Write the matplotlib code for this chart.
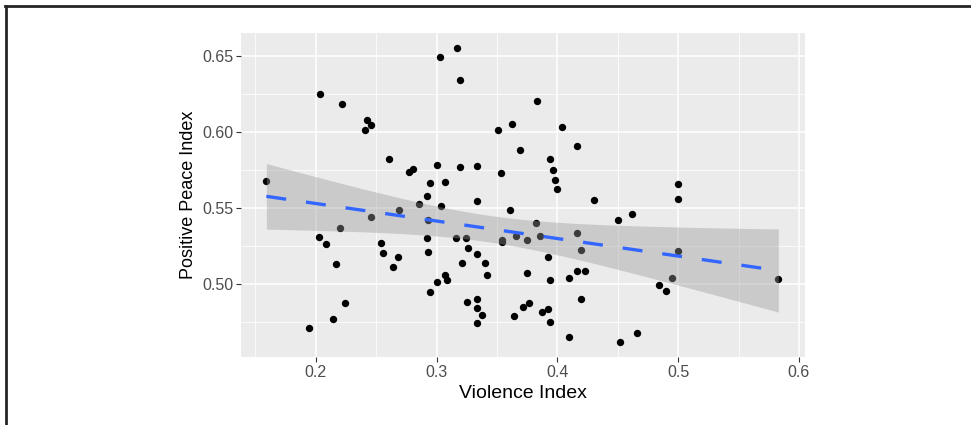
import numpy as np
import matplotlib
matplotlib.use("Agg")
import matplotlib.pyplot as plt
from matplotlib.lines import Line2D

plt.rcParams['font.family'] = ['Liberation Sans', 'DejaVu Sans']

# Violence Index (x) vs Positive Peace Index (y)
violence = [
    0.159, 0.2036, 0.2218, 0.2425, 0.2453, 0.2406, 0.2602, 0.2770, 0.2801, 0.2944,
    0.2917, 0.3165, 0.3027, 0.3193, 0.3830, 0.3626, 0.3507, 0.4035, 0.4164, 0.3689,
    0.3938, 0.3965, 0.3979, 0.3998, 0.3000, 0.3193, 0.3331, 0.3532, 0.3068, 0.3331,
    0.4305, 0.5000, 0.5000, 0.2853, 0.2690, 0.2453, 0.2201, 0.2027, 0.2080, 0.2168,
    0.2536, 0.2557, 0.2679, 0.2638, 0.2925, 0.2917, 0.2925, 0.2944, 0.2238, 0.2138,
    0.1942, 0.3035, 0.3609, 0.4499, 0.3822, 0.3157, 0.3240, 0.3540, 0.3540, 0.3654,
    0.3747, 0.3853, 0.4164, 0.4192, 0.3261, 0.3331, 0.3212, 0.3400, 0.3416, 0.3919,
    0.3747, 0.3068, 0.3082, 0.3000, 0.3935, 0.4095, 0.4164, 0.4225, 0.3250, 0.3331,
    0.3331, 0.3372, 0.3331, 0.3640, 0.3717, 0.3766, 0.3874, 0.3919, 0.3940, 0.4192,
    0.4098, 0.4520, 0.4619, 0.5000, 0.4946, 0.4843, 0.4899, 0.5829, 0.4661,
]
positive_peace = [
    0.568, 0.625, 0.6185, 0.6076, 0.6047, 0.6012, 0.5819, 0.5734, 0.5754, 0.5664,
    0.5578, 0.6549, 0.6491, 0.6338, 0.6200, 0.6053, 0.6014, 0.6030, 0.5907, 0.5880,
    0.5821, 0.5751, 0.5681, 0.5624, 0.5784, 0.5771, 0.5775, 0.5727, 0.5672, 0.5547,
    0.5555, 0.5655, 0.5560, 0.5526, 0.5486, 0.5440, 0.5366, 0.5309, 0.5263, 0.5131,
    0.5271, 0.5202, 0.5179, 0.5110, 0.5419, 0.5304, 0.5212, 0.4945, 0.4877, 0.4772,
    0.4713, 0.5511, 0.5488, 0.5419, 0.5399, 0.5304, 0.5300, 0.5289, 0.5278, 0.5315,
    0.5289, 0.5315, 0.5337, 0.5223, 0.5239, 0.5197, 0.5140, 0.5140, 0.5057, 0.5179,
    0.5070, 0.5059, 0.5026, 0.5013, 0.5024, 0.5037, 0.5083, 0.5087, 0.4882, 0.4903,
    0.4840, 0.4796, 0.4742, 0.4790, 0.4849, 0.4875, 0.4816, 0.4836, 0.4750, 0.4901,
    0.4654, 0.4617, 0.5458, 0.5215, 0.5039, 0.4991, 0.4952, 0.5035, 0.4678,
]

x_ticks = [0.2, 0.3, 0.4, 0.5, 0.6]
y_ticks = [0.50, 0.55, 0.60, 0.65]


def lm_band(x, y, n_grid=80, t_crit=1.985):
    """Least squares line with 95% confidence band, like geom_smooth(method='lm')."""
    x = np.asarray(x)
    y = np.asarray(y)
    slope, intercept = np.polyfit(x, y, 1)
    resid = y - (slope * x + intercept)
    s = np.sqrt(np.sum(resid ** 2) / (len(x) - 2))
    xbar = x.mean()
    sxx = np.sum((x - xbar) ** 2)
    grid = np.linspace(x.min(), x.max(), n_grid)
    fit = slope * grid + intercept
    se = s * np.sqrt(1 / len(x) + (grid - xbar) ** 2 / sxx)
    return grid, fit, fit - t_crit * se, fit + t_crit * se


fig = plt.figure(figsize=(9.71, 4.25), dpi=100)
ax = fig.add_axes([241 / 971, 1 - 357 / 425, 564 / 971, 324 / 425])

ax.set_facecolor('#EBEBEB')
for sp in ax.spines.values():
    sp.set_visible(False)

ax.scatter(violence, positive_peace, s=28, color='black', linewidths=0, zorder=3)

grid, fit, lo, hi = lm_band(violence, positive_peace)
ax.fill_between(grid, lo, hi, color='#999999', alpha=0.4, linewidth=0, zorder=4)
ax.plot(grid, fit, color='#3366FF', lw=2.4, linestyle=(0, (6, 6)), zorder=5)

ax.set_xlim(0.138, 0.605)
ax.set_ylim(0.452, 0.665)
ax.set_xticks(x_ticks)
ax.set_xticklabels([f"{v:g}" for v in x_ticks])
ax.set_yticks(y_ticks)
ax.set_yticklabels([f"{v:.2f}" for v in y_ticks])
ax.set_xticks([0.15, 0.25, 0.35, 0.45, 0.55], minor=True)
ax.set_yticks([0.475, 0.525, 0.575, 0.625], minor=True)

ax.grid(True, which='major', color='white', lw=1.1, zorder=0)
ax.grid(True, which='minor', color='white', lw=0.55, zorder=0)
ax.set_axisbelow(True)

ax.tick_params(which='major', length=3.5, width=0.8, color='#333333',
               labelcolor='#4D4D4D', labelsize=11.5, pad=2)
ax.tick_params(which='minor', length=0)

ax.set_xlabel('Violence Index', fontsize=14, color='black', labelpad=4)
ax.set_ylabel('Positive Peace Index', fontsize=13, color='black', labelpad=4)

# dark frame along the top and left edges of the picture
fig.add_artist(Line2D([5 / 971, 1], [1 - 5.5 / 425, 1 - 5.5 / 425],
                      transform=fig.transFigure, color='#262626', lw=2))
fig.add_artist(Line2D([5.5 / 971, 5.5 / 971], [0, 1 - 5.5 / 425],
                      transform=fig.transFigure, color='#262626', lw=2))

fig.savefig('out.png', dpi=100)
